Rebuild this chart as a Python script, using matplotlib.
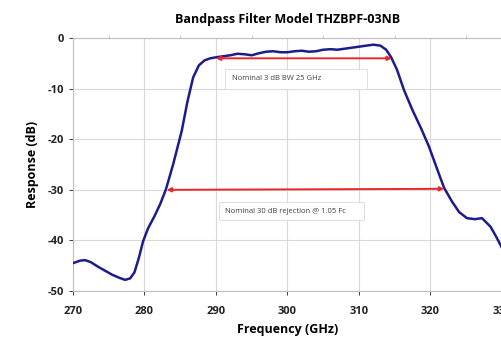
import numpy as np
import matplotlib.pyplot as plt

# Filter response (GHz, dB)
freq = [270, 271, 271.7, 272.5, 273.5, 274.5, 275.5, 276.5, 277.3, 278.0, 278.6, 279.2,
        279.8, 280.5, 281.4, 282.2, 283, 284, 285.2, 286, 286.8, 287.6, 288.4, 289.2,
        290, 291, 292, 293, 294, 295, 296, 297, 298, 299, 300, 301, 302, 303, 304,
        305, 306, 307, 308, 309, 310, 311, 312, 313, 313.8, 314.5, 315.3, 316.3,
        317.5, 318.7, 319.8, 320.8, 321.9, 323, 324, 325.1, 326.2, 327.2, 328.4,
        329.2, 330]
resp = [-44.5, -44.0, -43.9, -44.3, -45.2, -46.0, -46.8, -47.4, -47.8, -47.5, -46.3, -43.5,
        -40.2, -37.6, -35.2, -32.8, -29.9, -25.0, -18.4, -12.6, -7.8, -5.4, -4.4, -4.0,
        -3.8, -3.6, -3.4, -3.1, -3.2, -3.4, -3.0, -2.7, -2.6, -2.8, -2.8, -2.6, -2.5, -2.7, -2.6,
        -2.3, -2.2, -2.3, -2.1, -1.9, -1.7, -1.5, -1.3, -1.5, -2.3, -3.8, -6.2, -10.3,
        -14.3, -17.9, -21.5, -25.4, -29.6, -32.3, -34.4, -35.6, -35.8, -35.6, -37.3,
        -39.3, -41.5]

# annotation arrows: (x_start, x_end, y_start, y_end)
bw_arrow = (290, 314.6, -4.0, -4.0)
rej_arrow = (283.1, 321.9, -30.0, -29.8)
bw_text = "Nominal 3 dB BW 25 GHz"
rej_text = "Nominal 30 dB rejection @ 1.05 Fc"

xticks = [270, 280, 290, 300, 310, 320, 330]
yticks = [0, -10, -20, -30, -40, -50]

plt.rcParams['font.family'] = ['Open Sans', 'DejaVu Sans']
plt.rcParams['axes.unicode_minus'] = False

fig = plt.figure(figsize=(5.02, 3.37), dpi=100)
ax = fig.add_axes([0.1454, 0.1365, 0.8546, 0.7505])

ax.plot(freq, resp, color='#1c1c8c', lw=1.8, zorder=3,
        solid_joinstyle='round', solid_capstyle='round')

for a in (bw_arrow, rej_arrow):
    ax.annotate('', xy=(a[1], a[3]), xytext=(a[0], a[2]),
                arrowprops=dict(arrowstyle='<|-|>', color='#e8282c', lw=1.4,
                                mutation_scale=6, shrinkA=0, shrinkB=0), zorder=4)

# text boxes (Excel style: box wider than text)
ax.add_patch(plt.Rectangle((291.3, -10.1), 19.8, 4.0, fc='white', ec='#d9d9d9', lw=0.6, zorder=5))
ax.text(292.2, -7.9, bw_text, fontsize=5.5, color='#404040', va='center', ha='left', zorder=6)
ax.add_patch(plt.Rectangle((290.4, -36.0), 20.3, 3.6, fc='white', ec='#d9d9d9', lw=0.6, zorder=5))
ax.text(291.3, -34.2, rej_text, fontsize=5.5, color='#404040', va='center', ha='left', zorder=6)

ax.set_xlim(270, 330)
ax.set_ylim(-50, 0)
ax.set_xticks(xticks)
ax.set_yticks(yticks)
ax.tick_params(labelsize=8, colors='#222222', length=3, width=0.6)
ax.tick_params(axis='x', pad=8)
for lab in ax.get_xticklabels() + ax.get_yticklabels():
    lab.set_fontweight('bold')
for t in ax.xaxis.get_ticklines() + ax.yaxis.get_ticklines():
    t.set_color('#bfbfbf')

# small minor marks on the 0 dB line
ax.set_xticks([275, 285, 295, 305, 315, 325], minor=True)
ax.tick_params(axis='x', which='minor', bottom=False, top=True, direction='out',
               length=2.5, width=0.6, color='#bfbfbf')

ax.grid(True, color='#d9d9d9', lw=0.8)
ax.set_axisbelow(True)
ax.spines['right'].set_visible(False)
ax.spines['top'].set_color('#bfbfbf')
for s in ['left', 'bottom']:
    ax.spines[s].set_color('#bfbfbf')

ax.set_title('Bandpass Filter Model THZBPF-03NB', fontsize=9, fontweight='bold', pad=11)
ax.set_xlabel('Frequency (GHz)', fontsize=9, fontweight='bold', labelpad=4)
ax.set_ylabel('Response (dB)', fontsize=9, fontweight='bold', labelpad=6)

fig.savefig('out.png', dpi=100)
